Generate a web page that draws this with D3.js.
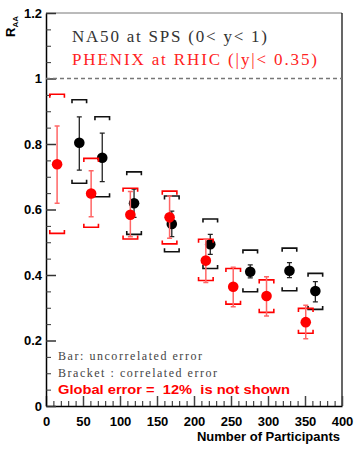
<!DOCTYPE html>
<html><head><meta charset="utf-8">
<script src="https://cdn.jsdelivr.net/npm/d3@7"></script>
<style>body{margin:0;background:#fff}svg{display:block}</style>
</head><body>
<svg id="c" width="357" height="455"></svg>
<script>
// NA50 at SPS
const na50Npart = [45, 76, 119, 170, 222, 276, 329, 364];
const na50Raa   = [0.804, 0.758, 0.619, 0.556, 0.494, 0.410, 0.413, 0.351];
const na50BarLo = [0.720, 0.685, 0.576, 0.517, 0.463, 0.391, 0.392, 0.318];
const na50BarHi = [0.883, 0.833, 0.662, 0.595, 0.524, 0.431, 0.438, 0.380];
const na50BrLo  = [0.680, 0.639, 0.524, 0.471, 0.420, 0.349, 0.352, 0.295];
const na50BrHi  = [0.935, 0.883, 0.715, 0.641, 0.571, 0.476, 0.482, 0.405];
// PHENIX at RHIC
const phxNpart = [15, 61, 114, 167, 216, 253, 298, 351];
const phxRaa   = [0.738, 0.649, 0.584, 0.576, 0.444, 0.364, 0.336, 0.256];
const phxBarLo = [0.619, 0.578, 0.517, 0.512, 0.377, 0.303, 0.275, 0.205];
const phxBarHi = [0.855, 0.718, 0.655, 0.641, 0.509, 0.424, 0.395, 0.308];
const phxBrLo  = [0.527, 0.546, 0.510, 0.495, 0.383, 0.311, 0.286, 0.222];
const phxBrHi  = [0.952, 0.756, 0.665, 0.656, 0.509, 0.420, 0.385, 0.298];

const xTickValues = [0, 50, 100, 150, 200, 250, 300, 350, 400];
const yTickValues = [0, 0.2, 0.4, 0.6, 0.8, 1.0, 1.2];
const yTickLabels = ["0", "0.2", "0.4", "0.6", "0.8", "1", "1.2"];

const svg = d3.select("#c");
const L = 46, R = 342, T = 13, B = 406;
const x = d3.scaleLinear().domain([0, 400]).range([L, R]);
const y = d3.scaleLinear().domain([0, 1.2]).range([B, T]);
const bold = "Liberation Sans, Arial, sans-serif";

// frame
svg.append("line").attr("x1", L).attr("x2", R).attr("y1", T).attr("y2", T).attr("stroke", "#777").attr("stroke-width", 1);
svg.append("line").attr("x1", R).attr("x2", R).attr("y1", T).attr("y2", B).attr("stroke", "#000").attr("stroke-width", 1.2);

// x axis
const xAxis = d3.axisBottom(x).tickValues(d3.range(0, 401, 10)).tickSize(0).tickFormat("");
const gx = svg.append("g").attr("transform", `translate(0,${B})`).call(xAxis);
gx.select(".domain").attr("stroke", "#000").attr("stroke-width", 1.5);
gx.selectAll(".tick line").attr("y2", d => d % 50 === 0 ? -10 : -5).attr("stroke", d => d % 50 === 0 ? "#444" : "#222").attr("stroke-width", d => d % 50 === 0 ? 1.5 : 1);
const gxl = svg.append("g").attr("transform", `translate(0,${B})`)
  .call(d3.axisBottom(x).tickValues(xTickValues).tickSize(0).tickPadding(11).tickFormat(d3.format("d")));
gxl.select(".domain").remove();
gxl.selectAll("text").attr("font-family", bold).attr("font-weight", "bold").attr("font-size", 13).attr("fill", "#000");

// y axis
const yMinor = d3.range(0, 1.2001, 0.05).map(v => +v.toFixed(2));
const gy = svg.append("g").attr("transform", `translate(${L},0)`)
  .call(d3.axisLeft(y).tickValues(yMinor).tickSize(0).tickFormat(""));
gy.select(".domain").attr("stroke", "#000").attr("stroke-width", 1.5);
gy.selectAll(".tick line").attr("x2", d => Math.abs(d / 0.2 - Math.round(d / 0.2)) < 1e-6 ? 10 : 5)
  .attr("stroke", "#333").attr("stroke-width", d => Math.abs(d / 0.2 - Math.round(d / 0.2)) < 1e-6 ? 1.5 : 1);
const gyl = svg.append("g").attr("transform", `translate(${L},0)`)
  .call(d3.axisLeft(y).tickValues(yTickValues).tickSize(0).tickPadding(4).tickFormat((d, i) => yTickLabels[i]));
gyl.select(".domain").remove();
gyl.selectAll("text").attr("font-family", bold).attr("font-weight", "bold").attr("font-size", 13).attr("fill", "#000");

// y title R_AA (rotated)
const yt = svg.append("text").attr("transform", "translate(15,37) rotate(-90)")
  .attr("font-family", bold).attr("font-weight", "bold").attr("font-size", 13).attr("fill", "#000");
yt.append("tspan").text("R");
yt.append("tspan").attr("font-size", 8).attr("dy", 3).text("AA");

// x title
svg.append("text").attr("x", 340).attr("y", 441).attr("text-anchor", "end")
  .attr("font-family", bold).attr("font-weight", "bold").attr("font-size", 13).text("Number of Participants");

// reference line at 1
svg.append("line").attr("x1", L).attr("x2", R).attr("y1", y(1)).attr("y2", y(1))
  .attr("stroke", "#777").attr("stroke-width", 1.5).attr("stroke-dasharray", "4,3");

// legend texts
const mono = "Liberation Serif, Times New Roman, serif";
svg.append("text").attr("x", 72).attr("y", 41.5).attr("font-family", mono).attr("font-size", 17)
  .attr("fill", "#333").attr("textLength", 195).attr("lengthAdjust", "spacing").text("NA50 at SPS (0< y< 1)");
svg.append("text").attr("x", 72).attr("y", 65).attr("font-family", mono).attr("font-size", 17)
  .attr("fill", "#f22").attr("textLength", 245).attr("lengthAdjust", "spacing").text("PHENIX at RHIC (|y|< 0.35)");
svg.append("text").attr("x", 58).attr("y", 360).attr("font-family", mono).attr("font-size", 12)
  .attr("fill", "#444").attr("textLength", 144).attr("lengthAdjust", "spacing").text("Bar: uncorrelated error");
svg.append("text").attr("x", 58).attr("y", 377).attr("font-family", mono).attr("font-size", 12)
  .attr("fill", "#444").attr("textLength", 159).attr("lengthAdjust", "spacing").text("Bracket : correlated error");
svg.append("text").attr("x", 58).attr("y", 394).attr("font-family", bold).attr("font-weight", "bold").attr("font-size", 13)
  .attr("fill", "#f00").attr("textLength", 232).attr("lengthAdjust", "spacingAndGlyphs").attr("xml:space", "preserve").text("Global error =  12%  is not shown");

function drawSeries(np, val, bLo, bHi, brLo, brHi, markColor, barColor, brColor, barW) {
  const g = svg.append("g");
  const data = np.map((n, i) => ({n, v: val[i], bl: bLo[i], bh: bHi[i], rl: brLo[i], rh: brHi[i]}));
  const hw = x(10) - x(0) - 0.1, hook = 3.5, cap = 2.5;
  // brackets
  g.selectAll(".brt").data(data).join("path")
    .attr("d", d => `M${x(d.n) - hw},${y(d.rh) + hook}V${y(d.rh)}H${x(d.n) + hw}V${y(d.rh) + hook}`)
    .attr("fill", "none").attr("stroke", brColor).attr("stroke-width", 1.6);
  g.selectAll(".brb").data(data).join("path")
    .attr("d", d => `M${x(d.n) - hw},${y(d.rl) - hook}V${y(d.rl)}H${x(d.n) + hw}V${y(d.rl) - hook}`)
    .attr("fill", "none").attr("stroke", brColor).attr("stroke-width", 1.6);
  // bars
  g.selectAll(".bar").data(data).join("path")
    .attr("d", d => `M${x(d.n)},${y(d.bl)}V${y(d.bh)}M${x(d.n) - cap},${y(d.bh)}H${x(d.n) + cap}M${x(d.n) - cap},${y(d.bl)}H${x(d.n) + cap}`)
    .attr("fill", "none").attr("stroke", barColor).attr("stroke-width", barW);
  // markers
  g.selectAll("circle").data(data).join("circle")
    .attr("cx", d => x(d.n)).attr("cy", d => y(d.v)).attr("r", 5.3).attr("fill", markColor);
}
drawSeries(na50Npart, na50Raa, na50BarLo, na50BarHi, na50BrLo, na50BrHi, "#000", "#222", "#111", 1.3);
drawSeries(phxNpart, phxRaa, phxBarLo, phxBarHi, phxBrLo, phxBrHi, "#f00", "#f66", "#f00", 1.5);
</script>
</body></html>
